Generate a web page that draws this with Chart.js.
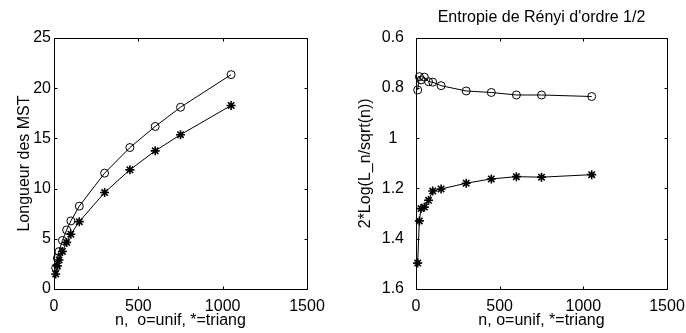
<!DOCTYPE html>
<html><head><meta charset="utf-8">
<script src="https://cdn.jsdelivr.net/npm/chart.js@4.4.0/dist/chart.umd.min.js"></script>
<style>
html,body{margin:0;padding:0;background:#fff;}
#wrap{position:relative;width:686px;height:333px;overflow:hidden;background:#fff;}
canvas{position:absolute;top:0;}
#c1{left:0;} #c2{left:343px;}
</style></head><body>
<div id="wrap"><canvas id="c1" width="343" height="333"></canvas><canvas id="c2" width="380" height="333"></canvas></div>
<script>
// ---- data ----
const nValues = [10, 20, 30, 50, 75, 100, 150, 300, 450, 600, 750, 1050];
const lengthUnif = [2.11, 3.07, 3.73, 4.84, 5.88, 6.78, 8.25, 11.54, 14.09, 16.19, 18.10, 21.35];
const lengthTriang = [1.50, 2.30, 2.89, 3.74, 4.64, 5.46, 6.71, 9.61, 11.87, 13.76, 15.37, 18.28];
const renyiUnif = [0.808, 0.755, 0.768, 0.757, 0.775, 0.777, 0.791, 0.812, 0.818, 0.828, 0.828, 0.834];
const renyiTriang = [1.497, 1.329, 1.280, 1.274, 1.247, 1.210, 1.202, 1.179, 1.162, 1.153, 1.155, 1.145];

const xTickValues = [0, 500, 1000, 1500];
const xTickLabels = ['0', '500', '1000', '1500'];
const leftYTickValues = [0, 5, 10, 15, 20, 25];
const leftYTickLabels = ['0', '5', '10', '15', '20', '25'];
const rightYTickValues = [0.6, 0.8, 1.0, 1.2, 1.4, 1.6];
const rightYTickLabels = ['0.6', '0.8', '1', '1.2', '1.4', '1.6'];

const leftXTitle = 'n,  o=unif, *=triang';
const rightXTitle = 'n, o=unif, *=triang';
const leftYTitle = 'Longueur des MST';
const rightYTitle = '2*Log(L_n/sqrt(n))';
const rightTitle = "Entropie de Rényi d'ordre 1/2";

// ---- styling ----
const FONT = "'Liberation Sans', Arial, sans-serif";
Chart.defaults.font.family = FONT;
Chart.defaults.font.size = 16;
Chart.defaults.color = '#000';

const pts = (ys) => nValues.map((n, i) => ({x: n, y: ys[i]}));

const boxTicks = {
  id: 'boxTicks',
  afterDatasetsDraw(chart) {
    const ctx = chart.ctx, ca = chart.chartArea;
    const L = Math.round(ca.left) + 0.5, R = Math.round(ca.right) + 0.5;
    const T = Math.round(ca.top) + 0.5, B = Math.round(ca.bottom) + 0.5;
    const len = 3;
    ctx.save();
    ctx.strokeStyle = '#000';
    ctx.lineWidth = 1;
    ctx.beginPath();
    ctx.rect(L, T, R - L, B - T);
    const xs = chart.scales.x, ys = chart.scales.y;
    xs.ticks.forEach(t => {
      const p = Math.round(xs.getPixelForValue(t.value)) + 0.5;
      ctx.moveTo(p, B); ctx.lineTo(p, B - len);
      ctx.moveTo(p, T); ctx.lineTo(p, T + len);
    });
    ys.ticks.forEach(t => {
      const p = Math.round(ys.getPixelForValue(t.value)) + 0.5;
      ctx.moveTo(L, p); ctx.lineTo(L + len, p);
      ctx.moveTo(R, p); ctx.lineTo(R - len, p);
    });
    ctx.stroke();
    ctx.restore();
  }
};

function lineDs(ys, style, radius, bw) {
  return {
    data: pts(ys),
    borderColor: '#000',
    borderWidth: 1,
    pointStyle: style,
    pointRadius: radius,
    pointBorderColor: '#000',
    pointBackgroundColor: 'rgba(0,0,0,0)',
    pointBorderWidth: bw,
    showLine: true,
    fill: false,
    tension: 0,
    clip: false
  };
}

function makeX(title) {
  return {
    type: 'linear', min: 0, max: 1500,
    afterBuildTicks: s => { s.ticks = xTickValues.map(v => ({value: v})); },
    ticks: { callback: (v, i) => xTickLabels[i], padding: 8, maxRotation: 0, autoSkip: false, color: '#000' },
    grid: { display: false, drawTicks: false }, border: { display: false },
    title: { display: true, text: title, color: '#000', padding: {top: 0, bottom: 3} },
    afterFit: s => { s.height = 44; }
  };
}

new Chart(document.getElementById('c1'), {
  type: 'scatter',
  data: { datasets: [
    lineDs(lengthUnif, 'circle', 4, 1),
    lineDs(lengthTriang, 'star', 4.5, 1.6)
  ]},
  options: {
    responsive: false, animation: false, events: [],
    layout: { padding: { top: 38, right: 36, left: 0, bottom: 0 } },
    plugins: { legend: { display: false }, tooltip: { enabled: false } },
    scales: {
      x: makeX(leftXTitle),
      y: {
        type: 'linear', min: 0, max: 25,
        afterBuildTicks: s => { s.ticks = leftYTickValues.map(v => ({value: v})); },
        ticks: { callback: (v, i) => leftYTickLabels[i], padding: 3, crossAlign: 'near', color: '#000' },
        grid: { display: false, drawTicks: false }, border: { display: false },
        title: { display: true, text: leftYTitle, color: '#000', padding: {top: 15.4, bottom: 0} },
        afterFit: s => { s.width = 54; }
      }
    }
  },
  plugins: [boxTicks]
});

new Chart(document.getElementById('c2'), {
  type: 'scatter',
  data: { datasets: [
    lineDs(renyiUnif, 'circle', 4, 1),
    lineDs(renyiTriang, 'star', 4.5, 1.6)
  ]},
  options: {
    responsive: false, animation: false, events: [],
    layout: { padding: { top: 0, right: 56, left: 0, bottom: 0 } },
    plugins: {
      legend: { display: false }, tooltip: { enabled: false },
      title: { display: true, text: rightTitle, fullSize: false, color: '#000',
               font: { size: 16, weight: 'normal' }, padding: { top: 8.4, bottom: 10.1 } }
    },
    scales: {
      x: makeX(rightXTitle),
      y: {
        type: 'linear', min: 0.6, max: 1.6, reverse: true,
        afterBuildTicks: s => { s.ticks = rightYTickValues.map(v => ({value: v})); },
        ticks: { callback: (v, i) => rightYTickLabels[i], padding: 12, crossAlign: 'center', color: '#000' },
        grid: { display: false, drawTicks: false }, border: { display: false },
        title: { display: true, text: rightYTitle, color: '#000', padding: {top: 13.4, bottom: 0} },
        afterFit: s => { s.width = 73; }
      }
    }
  },
  plugins: [boxTicks]
});
</script>
</body></html>
